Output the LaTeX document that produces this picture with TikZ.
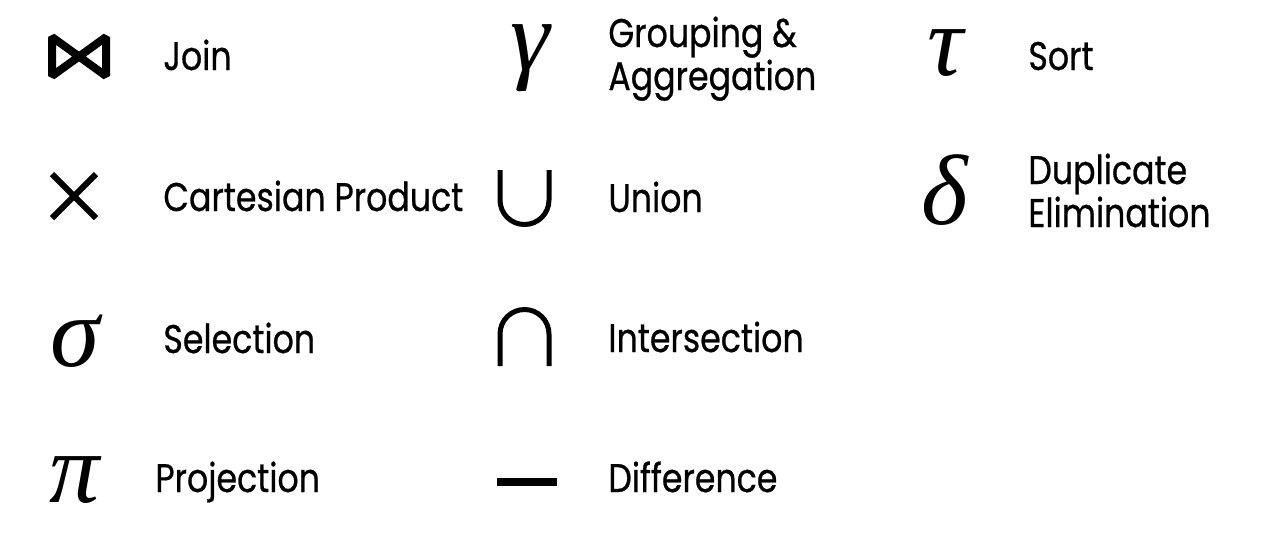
\documentclass[tikz,border=0pt]{standalone}
\usepackage{fontspec}
\setmainfont{Poppins}[FakeStretch=0.83, FakeBold=0.6]
\newfontfamily\greekfont{Liberation Serif}
\usepackage{tikz}

\begin{document}
\begin{tikzpicture}[x=0.5pt, y=-0.5pt,
  oplabel/.style={anchor=base west, inner sep=0pt, font=\fontsize{20}{21.5}\selectfont, align=left},
  opgreek/.style={inner sep=0pt, font=\fontsize{50}{50}\selectfont\greekfont\itshape},
  opline/.style={line width=#1, line cap=butt}]
\useasboundingbox (0,0) rectangle (1286,532);
% column 1
\draw[opline=4pt, line join=bevel] (52,37) -- (52,76) -- (106,37) -- (106,76) -- cycle;
\node[oplabel] (join) at (163,70) {Join};
\draw[opline=3pt] (52,174) -- (96,218); \draw[opline=3pt] (52,218) -- (96,174);
\node[oplabel] (cart) at (163,211) {Cartesian Product};
\node[opgreek] (sigma) at (75,341) {σ};
\node[oplabel] (sel) at (163,353) {Selection};
\node[opgreek] (pi) at (75,480) {π};
\node[oplabel] (proj) at (155,492) {Projection};
% column 2
\node[opgreek] (gamma) at (530,58) {γ};
\node[oplabel] (group) at (608,90) {Grouping \&\\Aggregation};
\draw[opline=2.5pt] (500,170) -- (500,200) arc (180:0:24.5) -- (549,170);
\node[oplabel] (union) at (608,212) {Union};
\draw[opline=2.5pt] (500,366) -- (500,334) arc (180:360:24.5) -- (549,366);
\node[oplabel] (inter) at (608,352) {Intersection};
\draw[opline=4pt] (497,482) -- (557,482);
\node[oplabel] (diff) at (608,492) {Difference};
% column 3
\node[opgreek] (tau) at (945,53) {τ};
\node[oplabel] (sort) at (1028,70) {Sort};
\node[opgreek] (delta) at (945,190) {δ};
\node[oplabel] (dup) at (1028,227) {Duplicate\\Elimination};
\end{tikzpicture}
\end{document}
